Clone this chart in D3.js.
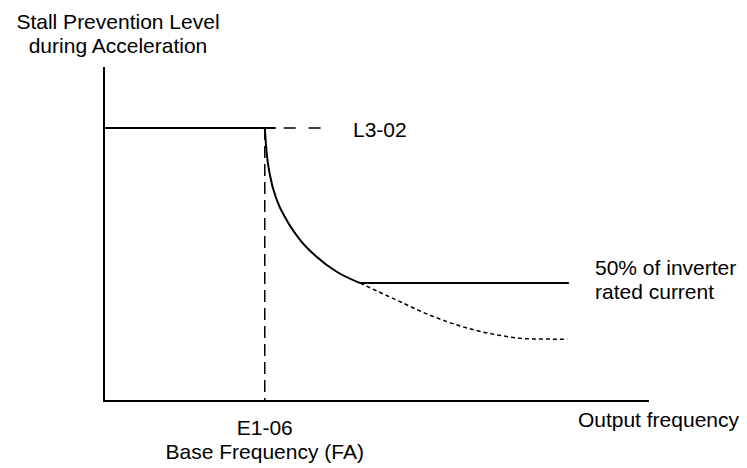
<!DOCTYPE html>
<html>
<head>
<meta charset="utf-8">
<script src="https://cdn.jsdelivr.net/npm/d3@7"></script>
<style>
  html, body { margin: 0; padding: 0; background: #fff; }
  svg { display: block; }
  text { font-family: "Liberation Sans", Arial, sans-serif; fill: #000; }
</style>
</head>
<body>
<svg id="chart" width="747" height="468"></svg>
<script>
// ---- data (frequency %, stall level %) ----
const baseFrequency = 29.5;          // E1-06
const stallLevel = 81.7;             // L3-02
const minLevel = 35.3;               // 50% of inverter rated current
const limitCurveF = [29.5, 29.85, 30.5, 31.7, 33.5, 36.0, 39.0, 42.7, 47.0];
const limitCurveV = [81.7, 74.2, 67.2, 60.2, 54.2, 48.2, 43.2, 38.7, 35.3];
const tailCurveF = [47.0, 53.7, 59.8, 65.9, 72.1, 78.2, 85.0];
const tailCurveV = [35.3, 30.2, 25.7, 22.2, 19.8, 18.6, 18.5];
const flatEndF = 85.3;
const l302DashEndF = 41.3;
const axisLabels = ["Stall Prevention Level", "during Acceleration", "Output frequency"];
const markerLabels = ["L3-02", "E1-06", "Base Frequency (FA)", "50% of inverter", "rated current"];

const svg = d3.select("#chart");
const x = d3.scaleLinear().domain([0, 100]).range([104, 649]);
const y = d3.scaleLinear().domain([0, 100]).range([401, 67]);

const line = d3.line().x(d => x(d[0])).y(d => y(d[1]));
const curve = d3.line().x(d => x(d[0])).y(d => y(d[1])).curve(d3.curveMonotoneX);

// axes
svg.append("path").attr("d", line([[0, 100], [0, 0], [100, 0]]))
  .attr("fill", "none").attr("stroke", "#000").attr("stroke-width", 2);

// L3-02 level solid
svg.append("path").attr("d", line([[0, stallLevel], [baseFrequency + 2, stallLevel]]))
  .attr("fill", "none").attr("stroke", "#000").attr("stroke-width", 2);
// L3-02 dashed extension
svg.append("path").attr("d", line([[baseFrequency + 2, stallLevel], [l302DashEndF, stallLevel]]))
  .attr("fill", "none").attr("stroke", "#000").attr("stroke-width", 1.5)
  .attr("stroke-dasharray", "0,8,12,5");

// base frequency vertical dashed
svg.append("path").attr("d", line([[baseFrequency, stallLevel], [baseFrequency, 0]]))
  .attr("fill", "none").attr("stroke", "#000").attr("stroke-width", 1.5)
  .attr("stroke-dasharray", "12,6");

// limit curve
svg.append("path").attr("d", curve(limitCurveF.map((f, i) => [f, limitCurveV[i]])))
  .attr("fill", "none").attr("stroke", "#000").attr("stroke-width", 2);
// dotted continuation
svg.append("path").attr("d", curve(tailCurveF.map((f, i) => [f, tailCurveV[i]])))
  .attr("fill", "none").attr("stroke", "#000").attr("stroke-width", 1.5)
  .attr("stroke-dasharray", "4,3");
// 50% flat
svg.append("path").attr("d", line([[limitCurveF[limitCurveF.length - 1], minLevel], [flatEndF, minLevel]]))
  .attr("fill", "none").attr("stroke", "#000").attr("stroke-width", 2);

const fs = 21;
function label(txt, px, py, anchor) {
  svg.append("text").attr("x", px).attr("y", py).attr("text-anchor", anchor || "start")
    .attr("font-size", fs).text(txt);
}
label(axisLabels[0], 118, 29, "middle");
label(axisLabels[1], 118, 53, "middle");
label(axisLabels[2], 739, 427, "end");
label(markerLabels[0], 353, 137);
label(markerLabels[1], x(baseFrequency), 435, "middle");
label(markerLabels[2], x(baseFrequency), 459, "middle");
label(markerLabels[3], 595, 275);
label(markerLabels[4], 595, 299);
</script>
</body>
</html>
